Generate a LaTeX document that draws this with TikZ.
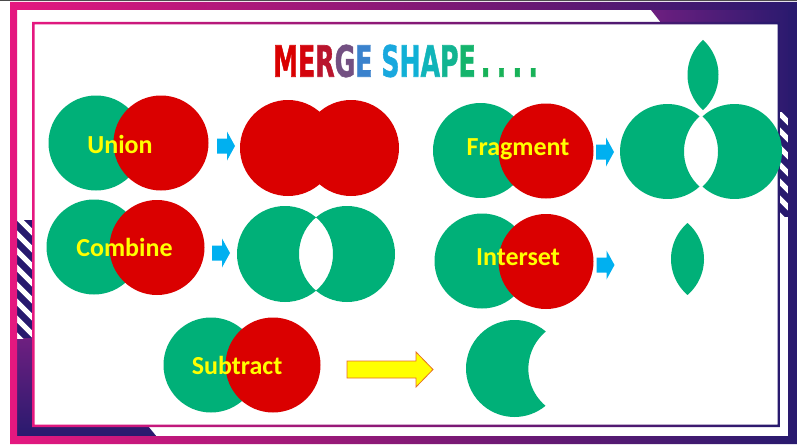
\documentclass[tikz,border=0pt]{standalone}
\usepackage{graphicx}
\usepackage{fontspec}
\newfontfamily\labelfont{Carlito}
\newfontfamily\titlefont{DejaVu Sans}[BoldFeatures={FakeBold=1.5}]
\definecolor{cgreen}{RGB}{0,176,120}
\definecolor{cred}{RGB}{218,0,0}
\definecolor{lblyellow}{RGB}{255,255,0}
\definecolor{abl}{RGB}{0,176,240}
\definecolor{fpink}{RGB}{229,24,127}
\definecolor{fmag}{RGB}{178,30,128}
\definecolor{fnavy}{RGB}{40,26,110}
\definecolor{fpurple}{RGB}{110,31,128}
\definecolor{arrowedge}{RGB}{230,110,40}
\definecolor{t1}{RGB}{217,0,0}
\definecolor{t2}{RGB}{212,4,12}
\definecolor{t3}{RGB}{185,20,45}
\definecolor{t4}{RGB}{115,80,130}
\definecolor{t5}{RGB}{58,130,205}
\definecolor{t6}{RGB}{25,168,222}
\definecolor{t7}{RGB}{16,176,214}
\definecolor{t8}{RGB}{16,180,185}
\definecolor{t9}{RGB}{18,180,145}
\definecolor{t10}{RGB}{20,180,108}
\definecolor{t11}{RGB}{24,178,88}
\tikzset{
  gcirc/.style={circle, fill=cgreen, draw=none, inner sep=0pt, minimum size=95pt},
  rcirc/.style={circle, fill=cred, draw=none, inner sep=0pt, minimum size=95pt},
  lbl/.style={text=lblyellow, inner sep=0pt, font=\labelfont\bfseries\fontsize{26}{30}\selectfont},
  pics/barrow/.style={code={\fill[abl] (-9,-7.5) -- (1,-7.5) -- (1,-14.5) -- (9,0) -- (1,14.5) -- (1,7.5) -- (-9,7.5) -- cycle;}},
  bandshade/.style={left color=fpink, middle color=fmag, right color=fnavy}
}
\begin{document}
\begin{tikzpicture}[x=1pt,y=-1pt]
\useasboundingbox (0,0) rectangle (797,444);
\fill[white] (0,0) rectangle (797,444);
% ---------- frame ----------
\fill[black!70] (0,0) rectangle (797,1.3);
\shade[left color=fpurple, right color=fnavy] (651,10) -- (797,10) -- (797,112) -- (779,112) -- (779,24) -- (662,24) -- cycle;
\shade[top color=fpurple, bottom color=fnavy] (17,338) -- (33,338) -- (33,426) -- (148,426) -- (157,437) -- (17,437) -- cycle;
\begin{scope}
  \clip (17,220) rectangle (32,338);
  \fill[fnavy] (17,220) rectangle (32,338);
  \foreach \k in {0,...,8} \draw[white, line width=5pt] (10,210+17*\k) -- (40,240+17*\k);
\end{scope}
\begin{scope}
  \clip (779,112) rectangle (791,217);
  \fill[fnavy] (779,112) rectangle (791,217);
  \foreach \k in {0,...,7} \draw[white, line width=5pt] (770,104+17*\k) -- (800,134+17*\k);
\end{scope}
\shade[even odd rule, bandshade] (10,2) rectangle (797,444) (17,10) rectangle (788,436);
\shade[even odd rule, bandshade] (32,22) rectangle (780,427) (34.5,24.5) rectangle (777.5,424.5);
% ---------- title ----------
\node[inner sep=0pt] (title) at (405.5,61) {\resizebox{265pt}{32pt}{\titlefont\bfseries
  \textcolor{t1}{M}\textcolor{t2}{E}\textcolor{t3}{R}\textcolor{t4}{G}\textcolor{t5}{E} \textcolor{t6}{S}\textcolor{t7}{H}\textcolor{t8}{A}\textcolor{t9}{P}\textcolor{t10}{E}\textcolor{t11}{\kern0.2em.\kern0.25em.\kern0.25em.\kern0.25em.}}};
% ---------- Union ----------
\node[gcirc] (ug) at (96,143) {};
\node[rcirc] (ur) at (161,143) {};
\node[lbl] (ul) at (120,144) {Union};
\pic (ua) at (226,146) {barrow};
\fill[cred] (288,148) circle (48pt) (351,148) circle (48pt);
% ---------- Combine ----------
\node[gcirc] (cg) at (94,247) {};
\node[rcirc] (cr) at (157,247.5) {};
\node[lbl] (cl) at (124.5,247) {Combine};
\pic (ca) at (221,253) {barrow};
\fill[cgreen, even odd rule] (285,254) circle (48pt) (347,254) circle (48pt);
% ---------- Fragment ----------
\node[gcirc] (fg) at (480.5,150.5) {};
\node[rcirc] (fr) at (546,151) {};
\node[lbl] (fl) at (518,149) {Fragment};
\pic (fa) at (605,152) {barrow};
\fill[cgreen] (667.5,151.5) ++(47.65:47.5pt) arc[start angle=47.65, end angle=312.35, radius=47.5pt] arc[start angle=227.65, end angle=132.35, radius=47.5pt] -- cycle;
\fill[cgreen] (734.5,151.5) ++(132.35:47.5pt) arc[start angle=132.35, end angle=-132.35, radius=47.5pt] arc[start angle=-47.65, end angle=47.65, radius=47.5pt] -- cycle;
\fill[cgreen] (671,75) ++(-47.65:47.5pt) arc[start angle=-47.65, end angle=47.65, radius=47.5pt] arc[start angle=132.35, end angle=227.65, radius=47.5pt] -- cycle;
% ---------- Interset ----------
\node[gcirc] (ig) at (482,261) {};
\node[rcirc] (ir) at (546,261.5) {};
\node[lbl] (il) at (518,257) {Interset};
\pic (ia) at (605.5,265) {barrow};
\fill[cgreen] (656.5,259) ++(-49.26:47.5pt) arc[start angle=-49.26, end angle=49.26, radius=47.5pt] arc[start angle=130.74, end angle=229.26, radius=47.5pt] -- cycle;
% ---------- Subtract ----------
\node[gcirc] (sg) at (211,365) {};
\node[rcirc] (sr) at (273,365) {};
\node[lbl] (sl) at (237,365) {Subtract};
\draw[fill=lblyellow, draw=arrowedge, line width=0.8pt] (347,361) -- (416,361) -- (416,352) -- (433,369.5) -- (416,387) -- (416,378) -- (347,378) -- cycle;
\fill[cgreen] (514.5,368.5) ++(50.27:48.5pt) arc[start angle=50.27, end angle=309.73, radius=48.5pt] arc[start angle=229.73, end angle=130.27, radius=48.5pt] -- cycle;
\end{tikzpicture}
\end{document}
